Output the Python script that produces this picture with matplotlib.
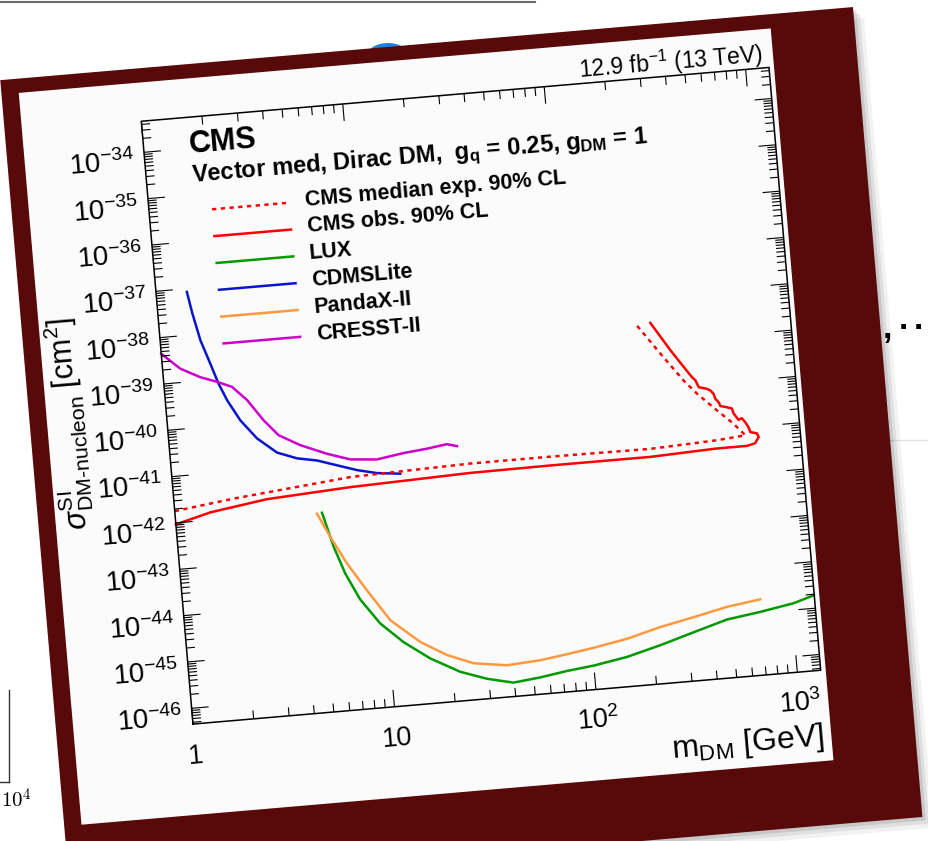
import matplotlib
matplotlib.use("Agg")
import matplotlib.pyplot as plt
import matplotlib.transforms as mtransforms
from matplotlib.collections import LineCollection
from matplotlib.patches import Rectangle, Ellipse
from matplotlib.lines import Line2D

# ---- data (DM mass in GeV, cross section in cm^2) ----
cms_exp_m = [1.0, 1.97, 7.59, 30.0, 74.8, 234, 504, 698, 618, 519, 420, 366, 288, 223]
cms_exp_xs = [1.8e-42, 2.6e-42, 4.6e-42, 5.4e-42, 5.4e-42, 5.2e-42, 6.0e-42, 6.8e-42,
              1.26e-41, 2.6e-41, 6.5e-41, 1.3e-40, 5.5e-40, 2.7e-39]

cms_obs_m = [1.0, 1.5, 2.88, 7.5, 29.7, 74.1, 233, 499, 705, 774, 811, 798, 741, 729, 706,
             682, 656, 624, 615, 571, 541, 532, 514, 507, 490, 473, 431, 418, 403, 370, 324, 265]
cms_obs_xs = [9.3e-43, 1.46e-42, 2.2e-42, 2.8e-42, 3.4e-42, 3.5e-42, 3.5e-42, 4.0e-42, 4.0e-42,
              4.4e-42, 5.9e-42, 7.1e-42, 7.8e-42, 1.0e-41, 1.3e-41, 1.6e-41, 1.5e-41, 2.1e-41,
              2.7e-41, 3.0e-41, 3.2e-41, 3.9e-41, 4.7e-41, 6.0e-41, 7.2e-41, 7.9e-41, 8.9e-41,
              1.26e-40, 1.5e-40, 2.6e-40, 6.2e-40, 2.6e-39]

lux_m = [5.31, 5.86, 6.52, 7.53, 9.24, 11.8, 15.7, 21.8, 29.4, 39.5, 53.8, 73.4, 99.8,
         147, 217, 321, 474, 697, 1026, 1300]
lux_xs = [8.9e-43, 1.6e-43, 4.0e-44, 1.05e-44, 2.95e-45, 1.07e-45, 4.3e-46, 1.95e-46, 1.23e-46,
          9.1e-47, 1.05e-46, 1.29e-46, 1.5e-46, 2.0e-46, 3.1e-46, 5.1e-46, 8.3e-46, 1.05e-45,
          1.4e-45, 1.9e-45]

pandax_m = [5.01, 5.70, 6.71, 8.20, 10.4, 14.3, 19.1, 25.6, 37.3, 54.7, 74.6, 101, 150, 221,
            325, 480, 705]
pandax_xs = [8.7e-43, 2.6e-43, 6.6e-44, 1.6e-44, 3.3e-45, 1.0e-45, 4.7e-46, 2.8e-46, 2.2e-46,
             2.45e-46, 2.95e-46, 3.6e-46, 4.9e-46, 7.6e-46, 1.07e-45, 1.55e-45, 1.95e-45]

cdms_m = [1.42, 1.48, 1.58, 1.73, 1.86, 2.02, 2.30, 2.73, 3.38, 4.22, 5.28, 6.59, 8.24, 10.3, 13.4]
cdms_xs = [8.5e-38, 2.9e-38, 7.4e-39, 2.2e-39, 8.1e-40, 3.4e-40, 1.2e-40, 4.6e-41, 2.1e-41,
           1.45e-41, 1.2e-41, 8.7e-42, 6.3e-42, 5.0e-42, 4.4e-42]

cresst_m = [1.0, 1.22, 1.52, 1.83, 2.16, 2.53, 2.99, 3.50, 4.43, 5.95, 7.71, 10.4, 14.2, 18.6,
            23.4, 26.2]
cresst_xs = [4.5e-39, 2.0e-39, 1.2e-39, 8.9e-40, 6.5e-40, 3.2e-40, 1.1e-40, 4.9e-41, 2.75e-41,
             1.6e-41, 1.1e-41, 9.8e-42, 1.2e-41, 1.35e-41, 1.55e-41, 1.35e-41]

leg_labels = ["CMS median exp. 90% CL", "CMS obs. 90% CL", "LUX", "CDMSLite", "PandaX-II", "CRESST-II"]
leg_colors = ["#ff0000", "#ff0000", "#009a00", "#0a14c8", "#ff9940", "#cc00cc"]
leg_styles = [(0, (1.7, 1.8)), "-", "-", "-", "-", "-"]

x_major = [1, 10, 100, 1000]
x_labels = ["1", "10", "$10^{2}$", "$10^{3}$"]
y_exp = list(range(-46, -33))

plt.rcParams["font.family"] = "Liberation Sans"
plt.rcParams["mathtext.fontset"] = "custom"
plt.rcParams["mathtext.rm"] = "Liberation Sans"
plt.rcParams["mathtext.it"] = "Liberation Sans:italic"
plt.rcParams["mathtext.bf"] = "Liberation Sans:bold"

W, H = 929, 841
fig = plt.figure(figsize=(W / 100, H / 100), dpi=100, facecolor="white")

# axes box (unrotated, display pixels)
bw, bh = 630, 605
cx, cy = 481, 445.25
ax = fig.add_axes([(cx - bw / 2) / W, (cy - bh / 2) / H, bw / W, bh / H])
ax.set_xscale("log")
ax.set_yscale("log")
xmin, xmax = 1, 1306
ymin, ymax = 10 ** -46.34, 10 ** -33.33
ax.set_xlim(xmin, xmax)
ax.set_ylim(ymin, ymax)
ax.set_autoscale_on(False)
ax.set_axis_off()

# the whole slide is tilted a little
ang = 4.9
rot = mtransforms.Affine2D().rotate_deg_around(cx, cy, ang)
tD = ax.transData + rot
tA = ax.transAxes + rot
tX = mtransforms.blended_transform_factory(ax.transData, ax.transAxes) + rot
tY = mtransforms.blended_transform_factory(ax.transAxes, ax.transData) + rot

# slide frame, shadow and white page
for off, a in [(0.016, 0.05), (0.010, 0.08), (0.005, 0.10)]:
    ax.add_patch(Rectangle((-0.2175 + off, -0.256 - off * 1.2), 1.3585, 1.3436, transform=tA,
                           facecolor="black", edgecolor="none", alpha=a, clip_on=False, zorder=0.05))
ax.add_patch(Rectangle((-0.2175, -0.256), 1.3585, 1.3436, transform=tA, facecolor="#580909",
                       edgecolor="none", clip_on=False, zorder=0.1))
ax.add_patch(Rectangle((-0.19, -0.150), 1.198, 1.214, transform=tA, facecolor="#fbfbfb",
                       edgecolor="none", clip_on=False, zorder=0.2))

# frame
ax.plot([0, 1, 1, 0, 0], [0, 0, 1, 1, 0], transform=tA, color="black", lw=1.1,
        clip_on=False, zorder=5)

# ticks (inward, all four sides)
Lmaj_x, Lmin_x = 17 / bh, 8.5 / bh
Lmaj_y, Lmin_y = 17 / bw, 8.5 / bw
segs = []
for dec in range(0, 4):
    for k in range(1, 10):
        v = k * 10 ** dec
        if v < xmin or v > xmax:
            continue
        L = Lmaj_x if k == 1 else Lmin_x
        segs.append([(v, 0), (v, L)])
        segs.append([(v, 1), (v, 1 - L)])
ax.add_collection(LineCollection(segs, transform=tX, colors="black", linewidths=0.8,
                                 clip_on=False, zorder=5))
segs = []
for e in range(-47, -33):
    for k in range(1, 10):
        v = k * 10.0 ** e
        if v < ymin or v > ymax:
            continue
        L = Lmaj_y if k == 1 else Lmin_y
        segs.append([(0, v), (L, v)])
        segs.append([(1, v), (1 - L, v)])
ax.add_collection(LineCollection(segs, transform=tY, colors="black", linewidths=0.8,
                                 clip_on=False, zorder=5))

# tick labels
for v, lab in zip(x_major, x_labels):
    ax.text(v, -0.0645, lab, transform=tX, rotation=ang, rotation_mode="anchor",
            ha="center", va="baseline", fontsize=19.5, zorder=6)
ylab_off = mtransforms.ScaledTranslation(0, -0.165, fig.dpi_scale_trans)
tYl = mtransforms.blended_transform_factory(ax.transAxes, ax.transData) + ylab_off + rot
for e in y_exp:
    ax.text(-0.016, 10.0 ** e, "$10^{%d}$" % e, transform=tYl, rotation=ang,
            rotation_mode="anchor", ha="right", va="baseline", fontsize=20, zorder=6)

# axis titles
ax.text(0.996, -0.124, r"m$_{\mathrm{DM}}$ [GeV]", transform=tA, rotation=ang,
        rotation_mode="anchor", ha="right", va="baseline", fontsize=23, zorder=6)
ax.text(-0.141, 0.689, r"$\sigma^{\mathrm{SI}}_{\text{DM-nucleon}}$ [cm$^{2}$]", transform=tA,
        rotation=90 + ang, rotation_mode="anchor", ha="right", va="baseline", fontsize=22, zorder=6)
ax.text(0.992, 1.009, "12.9 fb$^{-1}$ (13 TeV)", transform=tA, rotation=ang,
        rotation_mode="anchor", ha="right", va="baseline", fontsize=16.5, zorder=6)

# curves
ax.plot(lux_m, lux_xs, transform=tD, color=leg_colors[2], lw=1.8, clip_on=False, zorder=3)
ax.plot(pandax_m, pandax_xs, transform=tD, color=leg_colors[4], lw=1.8, clip_on=False, zorder=3)
ax.plot(cdms_m, cdms_xs, transform=tD, color=leg_colors[3], lw=1.8, clip_on=False, zorder=3)
ax.plot(cresst_m, cresst_xs, transform=tD, color=leg_colors[5], lw=1.8, clip_on=False, zorder=3)
ax.plot(cms_exp_m, cms_exp_xs, transform=tD, color=leg_colors[0], lw=1.8,
        linestyle=leg_styles[0], clip_on=False, zorder=4)
ax.plot(cms_obs_m, cms_obs_xs, transform=tD, color=leg_colors[1], lw=1.8, clip_on=False, zorder=4)

# header and legend
ax.text(0.0716, 0.9405, "CMS", transform=tA, rotation=ang, rotation_mode="anchor",
        ha="left", va="baseline", fontsize=22, fontweight="bold", zorder=6)
ax.text(0.0724, 0.893, r"Vector med, Dirac DM,  g$_{\mathbf{q}}$ = 0.25, g$_{\mathbf{DM}}$ = 1",
        transform=tA, rotation=ang, rotation_mode="anchor", ha="left", va="baseline",
        fontsize=17, fontweight="bold", zorder=6)
for i, (lab, col, ls) in enumerate(zip(leg_labels, leg_colors, leg_styles)):
    yy = 0.838 - i * 0.0445
    ax.plot([0.100, 0.222], [yy + 0.007, yy + 0.007], transform=tA, color=col, lw=1.8,
            linestyle=ls, clip_on=False, zorder=6)
    ax.text(0.248, yy, lab, transform=tA, rotation=ang, rotation_mode="anchor", ha="left",
            va="baseline", fontsize=15.5, fontweight="bold", zorder=6)

# bits of the neighbouring slides
fig.add_artist(Line2D([0, 535 / W], [1 - 1.5 / H] * 2, transform=fig.transFigure,
                      color="#6a6a6a", lw=1.5, zorder=-1))
fig.add_artist(Ellipse((388 / W, 1 - 56 / H), 42 / W, 26 / H, transform=fig.transFigure,
                       facecolor="#1f80dd", edgecolor="none", zorder=-1))
fig.add_artist(Line2D([880 / W, 1], [1 - 440 / H] * 2, transform=fig.transFigure,
                      color="#e2e2e2", lw=1, zorder=-1))
fig.text(883 / W, 1 - 338 / H, ",", fontsize=24, fontweight="bold", zorder=-1)
fig.text(899 / W, 1 - 338 / H, "\u00b7", fontsize=24, fontweight="bold", zorder=-1)
fig.text(914 / W, 1 - 338 / H, "\u00b7", fontsize=24, fontweight="bold", zorder=-1)
fig.add_artist(Line2D([9 / W, 9 / W], [1 - 690 / H, 1 - 782 / H], transform=fig.transFigure,
                      color="#333333", lw=1, zorder=-1))
fig.add_artist(Line2D([0, 9 / W], [1 - 782 / H] * 2, transform=fig.transFigure,
                      color="#333333", lw=1, zorder=-1))
fig.text(1 / W, 1 - 808 / H, "$10^4$", fontsize=15, math_fontfamily="cm", zorder=-1)

fig.savefig("out.png", dpi=100, facecolor="white")
